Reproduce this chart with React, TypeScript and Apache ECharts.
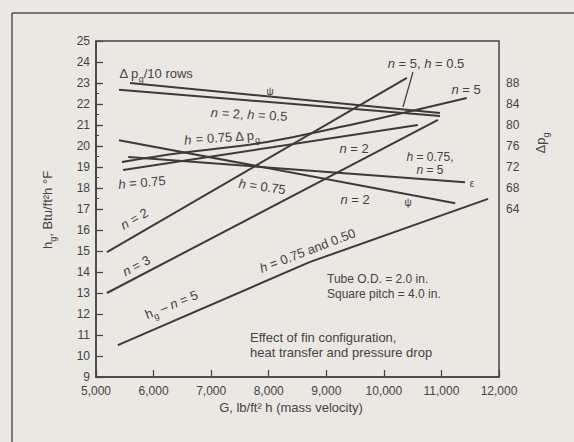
import React, { useEffect, useRef } from "react";
import * as echarts from "echarts";

// Mass velocity G (lb/ft2 h) and values
// Heat-transfer lines, left axis (h_g, Btu/ft2 h °F)
const n2SteepG = [5190, 10400];
const n2SteepH = [14.95, 23.24];
const n3G = [5190, 10940];
const n3H = [13.0, 21.24];
const n5LowG = [5380, 8720, 11810];
const n5LowH = [10.52, 14.48, 17.48];
const n2FlatG = [5470, 10590];
const n2FlatH = [18.86, 21.0];
const n5CurveG = [5450, 6460, 7850, 9240, 11440];
const n5CurveH = [19.24, 19.67, 20.14, 20.9, 22.29];

// Pressure-drop lines, right axis (Δp_g)
const dpRowsG = [5590, 10975];
const dpRows = [88.0, 82.3];
const dpN2h05G = [5400, 10975];
const dpN2h05 = [86.7, 81.7];
const dpN5h075G = [5560, 11410];
const dpN5h075 = [73.9, 69.1];
const dpN2h075G = [5400, 11240];
const dpN2h075 = [77.1, 65.1];

const xTicks = { min: 5000, max: 12000, step: 1000 };
const leftTicks = { min: 9, max: 25, step: 1 };
const rightTicks = { min: 64, max: 88, step: 4 };

const INK = "#3b3b3b";
const TXT = "#444444";
const FONT = "Liberation Sans, Arial, sans-serif";

const rich = {
  m: { fontSize: 13, fontFamily: FONT, color: TXT, verticalAlign: "bottom", padding: [0, 0, 3, 0] },
  i: { fontSize: 13, fontFamily: FONT, color: TXT, fontStyle: "italic", verticalAlign: "bottom", padding: [0, 0, 3, 0] },
  s: { fontSize: 9, fontFamily: FONT, color: TXT, verticalAlign: "bottom" },
  m2: { fontSize: 12, fontFamily: FONT, color: TXT, lineHeight: 13 },
  i2: { fontSize: 12, fontFamily: FONT, color: TXT, fontStyle: "italic", lineHeight: 13 },
};

function lbl(text: string, x: number, y: number, rotDeg = 0, align = "center", size = 13) {
  return {
    type: "text",
    x,
    y,
    rotation: (rotDeg * Math.PI) / 180,
    z: 10,
    style: {
      text,
      rich,
      align,
      verticalAlign: "middle",
      fontSize: size,
      fontFamily: FONT,
      fill: TXT,
    },
  };
}

function plain(text: string, x: number, y: number, size = 13, align = "left") {
  return {
    type: "text",
    x,
    y,
    z: 10,
    style: { text, fontSize: size, fontFamily: FONT, fill: TXT, align, verticalAlign: "middle" },
  };
}

function pairs(xs: number[], ys: number[]) {
  return xs.map((g, i) => [g, ys[i]]);
}

export default function App() {
  const ref = useRef<HTMLDivElement>(null);
  useEffect(() => {
    if (!ref.current) return;
    const chart = echarts.init(ref.current, undefined, { renderer: "svg" });
    const mk = (name: string, xs: number[], ys: number[], yAxisIndex: number, smooth = false) => ({
      name,
      type: "line",
      xAxisIndex: 0,
      yAxisIndex,
      data: pairs(xs, ys),
      showSymbol: false,
      smooth: smooth ? 0.35 : false,
      lineStyle: { color: INK, width: 2 },
      silent: true,
    });
    const option: any = {
      animation: false,
      backgroundColor: "#ebe7e3",
      grid: [
        { left: 96, top: 41, width: 403, height: 336, show: true, borderColor: "#444", borderWidth: 1.5, backgroundColor: "transparent" },
        { left: 96, top: 83, width: 403, height: 126, show: false },
      ],
      xAxis: [
        {
          type: "value",
          gridIndex: 0,
          min: xTicks.min,
          max: xTicks.max,
          interval: xTicks.step,
          axisLine: { show: true, lineStyle: { color: "#444", width: 1.5 } },
          axisTick: { show: true, inside: true, length: 7, lineStyle: { color: "#444", width: 1.2 } },
          splitLine: { show: false },
          axisLabel: {
            color: TXT,
            fontSize: 12,
            fontFamily: FONT,
            margin: 8,
            formatter: (v: number) => v.toLocaleString("en-US"),
          },
        },
        { type: "value", gridIndex: 1, show: false, min: 0, max: 1 },
      ],
      yAxis: [
        {
          type: "value",
          gridIndex: 0,
          min: leftTicks.min,
          max: leftTicks.max,
          interval: leftTicks.step,
          axisLine: { show: true, lineStyle: { color: "#444", width: 1.5 } },
          axisTick: { show: true, inside: true, length: 7, lineStyle: { color: "#444", width: 1.2 } },
          splitLine: { show: false },
          axisLabel: { color: TXT, fontSize: 12, fontFamily: FONT, margin: 6 },
        },
        { type: "value", gridIndex: 0, min: 32, max: 96, show: false },
        {
          type: "value",
          gridIndex: 1,
          position: "right",
          min: rightTicks.min,
          max: rightTicks.max,
          interval: rightTicks.step,
          axisLine: { show: true, lineStyle: { color: "#444", width: 1.5 } },
          axisTick: { show: true, inside: false, length: 5, lineStyle: { color: "#444", width: 1.2 } },
          minorTick: { show: true, splitNumber: 2, length: 3, lineStyle: { color: "#444", width: 1 } },
          splitLine: { show: false },
          axisLabel: { color: TXT, fontSize: 12, fontFamily: FONT, margin: 7 },
        },
      ],
      series: [
        mk("n=2", n2SteepG, n2SteepH, 0),
        mk("n=3", n3G, n3H, 0),
        mk("n=5 low", n5LowG, n5LowH, 0),
        mk("n=2 h=0.75", n2FlatG, n2FlatH, 0),
        mk("n=5 h=0.75", n5CurveG, n5CurveH, 0, true),
        mk("dp/10 rows", dpRowsG, dpRows, 1),
        mk("dp n=2 h=0.5", dpN2h05G, dpN2h05, 1),
        mk("dp n=5 h=0.75", dpN5h075G, dpN5h075, 1),
        mk("dp n=2 h=0.75", dpN2h075G, dpN2h075, 1),
      ],
      graphic: [
        { type: "line", shape: { x1: 12, y1: 13, x2: 574, y2: 13 }, style: { stroke: "#555", lineWidth: 1.5 } },
        { type: "line", shape: { x1: 12, y1: 13, x2: 12, y2: 442 }, style: { stroke: "#555", lineWidth: 1.5 } },
        { type: "line", shape: { x1: 413, y1: 72, x2: 403, y2: 107 }, style: { stroke: INK, lineWidth: 1.2 } },
        lbl("{m|Δ p}{s|g}{m|/10 rows}", 156, 75),
        lbl("{i|n}{m| = 2, }{i|h}{m| = 0.5}", 249, 116, -3),
        lbl("{i|h}{m| = 0.75 Δ p}{s|g}", 222, 139, 4),
        lbl("{i|h}{m| = 0.75}", 142, 184, 5),
        lbl("{i|h}{m| = 0.75}", 262, 188, -8),
        lbl("{i|n}{m| = 2}", 135, 220, 30),
        lbl("{i|n}{m| = 3}", 137, 267, 28),
        lbl("{m|h}{s|g}{m| – }{i|n}{m| = 5}", 172, 306, 22),
        lbl("{i|h}{m| = 0.75 and 0.50}", 308, 252, 21),
        lbl("{i|n}{m| = 5, }{i|h}{m| = 0.5}", 426, 65),
        lbl("{i|n}{m| = 5}", 466, 91),
        lbl("{i|n}{m| = 2}", 354, 150),
        lbl("{i2|h}{m2| = 0.75,}\n{i2|n}{m2| = 5}", 430, 163),
        lbl("{i|n}{m| = 2}", 355, 201),
        plain("ψ", 270, 91, 10, "center"),
        plain("ψ", 408, 202, 10, "center"),
        plain("ε", 472, 183, 10, "center"),
        plain("Tube O.D. = 2.0 in.", 327, 279, 12),
        plain("Square pitch = 4.0 in.", 327, 294, 12),
        plain("Effect of fin configuration,", 250, 337, 13),
        plain("heat transfer and pressure drop", 250, 352, 13),
        plain("G, lb/ft² h (mass velocity)", 291, 407, 13, "center"),
        {
          type: "text",
          x: 49,
          y: 210,
          rotation: Math.PI / 2,
          z: 10,
          style: {
            text: "{m|h}{s|g}{m|, Btu/ft²h °F}",
            rich,
            align: "center",
            verticalAlign: "middle",
            fontSize: 13,
            fontFamily: FONT,
            fill: TXT,
          },
        },
        {
          type: "text",
          x: 542,
          y: 143,
          rotation: Math.PI / 2,
          z: 10,
          style: {
            text: "{m|Δp}{s|g}",
            rich,
            align: "center",
            verticalAlign: "middle",
            fontSize: 13,
            fontFamily: FONT,
            fill: TXT,
          },
        },
      ],
    };
    chart.setOption(option);
    return () => chart.dispose();
  }, []);
  return (
    <div style={{ position: "absolute", left: 0, top: 0, width: 574, height: 442, background: "#ebe7e3" }}>
      <div ref={ref} style={{ width: 574, height: 442 }} />
    </div>
  );
}
